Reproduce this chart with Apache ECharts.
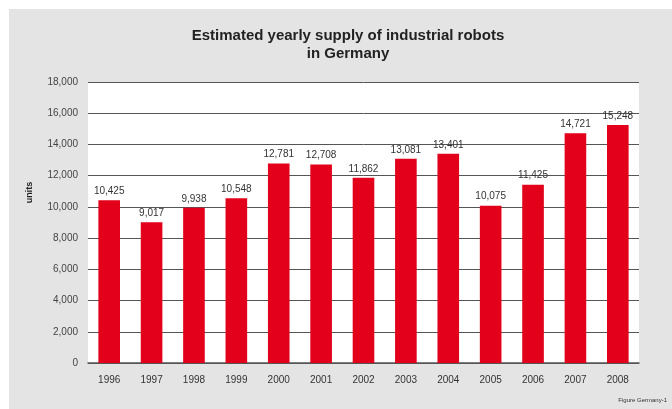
<!DOCTYPE html>
<html>
<head>
<meta charset="utf-8">
<script src="https://cdn.jsdelivr.net/npm/echarts@6/dist/echarts.min.js"></script>
<style>
  html, body { margin: 0; padding: 0; background: #ffffff; }
  #chart { width: 672px; height: 409px; }
</style>
</head>
<body>
<div id="chart"></div>
<script>
// Yearly supply of industrial robots, Germany
const years = ['1996', '1997', '1998', '1999', '2000', '2001', '2002', '2003', '2004', '2005', '2006', '2007', '2008']
const units = [10425, 9017, 9938, 10548, 12781, 12708, 11862, 13081, 13401, 10075, 11425, 14721, 15248]

const chart = echarts.init(document.getElementById('chart'))
chart.setOption({
  backgroundColor: '#ffffff',
  animation: false,
  textStyle: { fontFamily: 'Liberation Sans, Arial, sans-serif' },
  graphic: [{
    type: 'rect',
    shape: { x: 9, y: 9, width: 663, height: 400 },
    style: { fill: '#e4e4e4' },
    z: -10
  }, {
    type: 'text',
    right: 5,
    top: 397,
    style: { text: 'Figure Germany-1', fontSize: 6, fill: '#333', fontFamily: 'Liberation Sans, Arial, sans-serif' }
  }],
  title: {
    text: 'Estimated yearly supply of industrial robots\nin Germany',
    left: 343,
    top: 22,
    textAlign: 'center',
    textStyle: {
      fontSize: 15,
      fontWeight: 'bold',
      color: '#222',
      lineHeight: 18
    }
  },
  grid: {
    left: 88,
    right: 33,
    top: 82,
    bottom: 46,
    show: true,
    backgroundColor: '#ffffff',
    borderWidth: 0
  },
  xAxis: {
    type: 'category',
    data: years,
    axisTick: { show: false },
    axisLine: { lineStyle: { color: '#555', width: 1.5 } },
    axisLabel: { color: '#333', fontSize: 10, margin: 12 }
  },
  yAxis: {
    type: 'value',
    min: 0,
    max: 18000,
    interval: 2000,
    name: 'units',
    nameLocation: 'middle',
    nameGap: 54,
    nameTextStyle: { fontSize: 9, fontWeight: 'bold', color: '#222', padding: [0, 0, 0, 60] },
    axisLine: { show: false },
    axisTick: { show: false },
    axisLabel: {
      color: '#444',
      fontSize: 10,
      margin: 10,
      formatter: v => v.toLocaleString('en-US')
    },
    splitLine: { lineStyle: { color: '#555', width: 1 } }
  },
  series: [{
    type: 'bar',
    data: units,
    barWidth: '51%',
    itemStyle: { color: '#e2001a' },
    label: {
      show: true,
      position: 'top',
      distance: 4,
      color: '#333',
      fontSize: 10,
      formatter: p => p.value.toLocaleString('en-US')
    }
  }]
})
</script>
</body>
</html>
